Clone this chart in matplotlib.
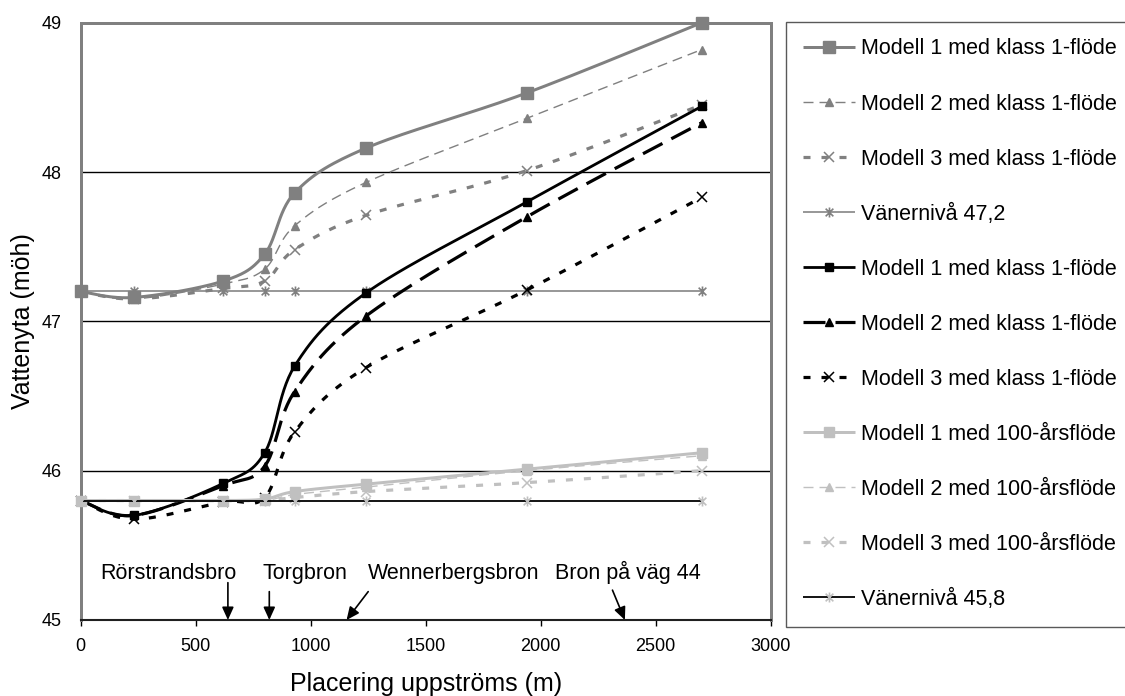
import numpy as np
import matplotlib
matplotlib.use("Agg")
import matplotlib.pyplot as plt
from matplotlib.path import Path

plt.rcParams['font.family'] = ['Liberation Sans', 'DejaVu Sans']
plt.rcParams['lines.scale_dashes'] = False

# ---------------- data ----------------
x_pos = [0, 230, 620, 800, 930, 1240, 1940, 2700]

m1_k1_grey = [47.20, 47.16, 47.27, 47.45, 47.86, 48.16, 48.53, 49.00]
m2_k1_grey = [47.20, 47.15, 47.25, 47.35, 47.64, 47.93, 48.36, 48.82]
m3_k1_grey = [47.20, 47.15, 47.22, 47.27, 47.48, 47.71, 48.01, 48.45]
vaner_472 = [47.2, 47.2, 47.2, 47.2, 47.2, 47.2, 47.2, 47.2]
m1_k1_black = [45.80, 45.70, 45.915, 46.12, 46.70, 47.19, 47.80, 48.44]
m2_k1_black = [45.80, 45.70, 45.90, 46.03, 46.53, 47.035, 47.70, 48.33]
m3_k1_black = [45.80, 45.675, 45.79, 45.82, 46.26, 46.69, 47.21, 47.83]
m1_100 = [45.80, 45.80, 45.80, 45.81, 45.86, 45.91, 46.01, 46.12]
m2_100 = [45.80, 45.80, 45.80, 45.80, 45.84, 45.89, 46.00, 46.10]
m3_100 = [45.80, 45.80, 45.80, 45.80, 45.82, 45.86, 45.92, 46.00]
vaner_458 = [45.8, 45.8, 45.8, 45.8, 45.8, 45.8, 45.8, 45.8]

labels = ["Modell 1 med klass 1-flöde", "Modell 2 med klass 1-flöde",
          "Modell 3 med klass 1-flöde", "Vänernivå 47,2",
          "Modell 1 med klass 1-flöde", "Modell 2 med klass 1-flöde",
          "Modell 3 med klass 1-flöde", "Modell 1 med 100-årsflöde",
          "Modell 2 med 100-årsflöde", "Modell 3 med 100-årsflöde",
          "Vänernivå 45,8"]

bridges = ["Rörstrandsbro", "Torgbron", "Wennerbergsbron", "Bron på väg 44"]
bridge_text_x = [380, 975, 1620, 2380]
bridge_arrow_from = [(640, 45.25), (820, 45.19), (1250, 45.19), (2312, 45.20)]
bridge_arrow_to = [(640, 45.0), (820, 45.0), (1156, 45.0), (2366, 45.0)]

x_ticks = [0, 500, 1000, 1500, 2000, 2500, 3000]
y_ticks = [45, 46, 47, 48, 49]

# ---------------- helpers ----------------
N = 30


def smooth(xs, ys, n=N):
    P = np.column_stack([xs, ys]).astype(float)
    P = np.vstack([P[0], P, P[-1]])
    out = []
    t = np.linspace(0, 1, n, endpoint=False)[:, None]
    for i in range(1, len(P) - 2):
        p0, p1, p2, p3 = P[i - 1], P[i], P[i + 1], P[i + 2]
        c1 = p1 + (p2 - p0) / 6.0
        c2 = p2 - (p3 - p1) / 6.0
        seg = ((1 - t) ** 3) * p1 + 3 * ((1 - t) ** 2) * t * c1 + 3 * (1 - t) * t ** 2 * c2 + t ** 3 * p2
        out.append(seg)
    out.append(P[-2][None, :])
    out = np.vstack(out)
    return out[:, 0], out[:, 1]


star = Path([(-1, -1), (1, 1), (-1, 1), (1, -1), (0, -1.3), (0, 1.3)],
            [Path.MOVETO, Path.LINETO, Path.MOVETO, Path.LINETO, Path.MOVETO, Path.LINETO])

DG = '#808080'
LG = '#c0c0c0'
BK = '#000000'
PX = 1 / 1.389  # pixel -> point

styles = [
    dict(color=DG, lw=3 * PX, ls='-', marker='s', ms=12 * PX, mfc=DG, mec=DG),
    dict(color=DG, lw=1.4 * PX, ls=(0, (10 * PX, 6 * PX)), marker='^', ms=9 * PX, mfc=DG, mec=DG),
    dict(color=DG, lw=3.2 * PX, ls=(0, (7 * PX, 11 * PX)), marker='x', ms=10 * PX, mfc='none', mec=DG, mew=1.1),
    dict(color=DG, lw=1.6 * PX, ls='-', marker=star, ms=10 * PX, mfc='none', mec=DG, mew=1.2),
    dict(color=BK, lw=2.8 * PX, ls='-', marker='s', ms=9 * PX, mfc=BK, mec=BK),
    dict(color=BK, lw=3.2 * PX, ls=(0, (22 * PX, 10 * PX)), marker='^', ms=9 * PX, mfc=BK, mec=BK),
    dict(color=BK, lw=3.2 * PX, ls=(0, (7 * PX, 11 * PX)), marker='x', ms=10 * PX, mfc='none', mec=BK, mew=1.1),
    dict(color=LG, lw=3 * PX, ls='-', marker='s', ms=10 * PX, mfc=LG, mec=LG),
    dict(color=LG, lw=1.4 * PX, ls=(0, (10 * PX, 6 * PX)), marker='^', ms=9 * PX, mfc=LG, mec=LG),
    dict(color=LG, lw=3.2 * PX, ls=(0, (7 * PX, 11 * PX)), marker='x', ms=10 * PX, mfc='none', mec=LG, mew=1.1),
    dict(color=BK, lw=1.8 * PX, ls='-', marker=star, ms=10 * PX, mfc='none', mec=LG, mew=1.2),
]

series = [m1_k1_grey, m2_k1_grey, m3_k1_grey, vaner_472,
          m1_k1_black, m2_k1_black, m3_k1_black,
          m1_100, m2_100, m3_100, vaner_458]
smoothed = [True, True, True, False, True, True, True, True, True, True, False]

# ---------------- figure ----------------
fig = plt.figure(figsize=(11.25, 6.96), dpi=100)
ax = fig.add_axes([80.7 / 1125, 76 / 696, 690 / 1125, 597.3 / 696])

handles = []
for i, (ys, st, sm) in enumerate(zip(series, styles, smoothed)):
    if sm:
        xs_s, ys_s = smooth(x_pos, ys)
        mark = [k * N for k in range(len(x_pos))]
    else:
        xs_s, ys_s = np.array(x_pos, float), np.array(ys, float)
        mark = list(range(len(x_pos)))
    h, = ax.plot(xs_s, ys_s, color=st['color'], lw=st['lw'], ls=st['ls'],
                 marker=st['marker'], ms=st['ms'], mfc=st['mfc'], mec=st['mec'],
                 mew=st.get('mew', 1.0), markevery=mark, label=labels[i],
                 zorder=3 + i * 0.1, clip_on=False, solid_capstyle='butt', dash_capstyle='butt')
    handles.append(h)

ax.set_xlim(0, 3000)
ax.set_ylim(45, 49)
ax.set_xticks(x_ticks)
ax.set_yticks(y_ticks)
ax.set_xticklabels([str(v) for v in x_ticks], fontsize=13)
ax.set_yticklabels([str(v) for v in y_ticks], fontsize=13)
ax.tick_params(axis='x', direction='out', length=6 * PX, width=1, color='black', pad=9)
ax.tick_params(axis='y', length=0, pad=13.5)

for yv in [46, 47, 48]:
    ax.axhline(yv, color='black', lw=1.0, zorder=1)

for s in ['left', 'top', 'right']:
    ax.spines[s].set_color(DG)
    ax.spines[s].set_linewidth(3 * PX)
ax.spines['bottom'].set_color('#202020')
ax.spines['bottom'].set_linewidth(1.5)
ax.spines['bottom'].set_zorder(5)

# bridge annotations
for name, tx, a0, a1 in zip(bridges, bridge_text_x, bridge_arrow_from, bridge_arrow_to):
    ax.text(tx, 45.275, name, fontsize=15.5, ha='center', va='baseline')
    ax.annotate('', xy=a1, xytext=a0,
                arrowprops=dict(arrowstyle='-|>,head_length=0.55,head_width=0.25', color='black',
                                lw=1.2, shrinkA=0, shrinkB=0, mutation_scale=14), zorder=6)

fig.text(425.7 / 1125, (696 - 690.5) / 696, "Placering uppströms (m)", fontsize=18,
         ha='center', va='baseline')
fig.text(23 / 1125, (696 - 321.5) / 696, "Vattenyta (möh)", fontsize=18,
         ha='center', va='center', rotation=90)

leg = fig.legend(handles=handles, labels=labels, loc='upper left',
                 bbox_to_anchor=(786 / 1125, 1 - 21.7 / 696), bbox_transform=fig.transFigure,
                 fontsize=15.5, frameon=True, fancybox=False, edgecolor='#303030',
                 handlelength=52 / 21.5, handletextpad=0.28, labelspacing=1.58,
                 borderpad=0.78, borderaxespad=0, numpoints=1, markerscale=1.0)
leg.get_frame().set_linewidth(1.0)
leg.set_zorder(10)

fig.savefig("out.png", dpi=100)
